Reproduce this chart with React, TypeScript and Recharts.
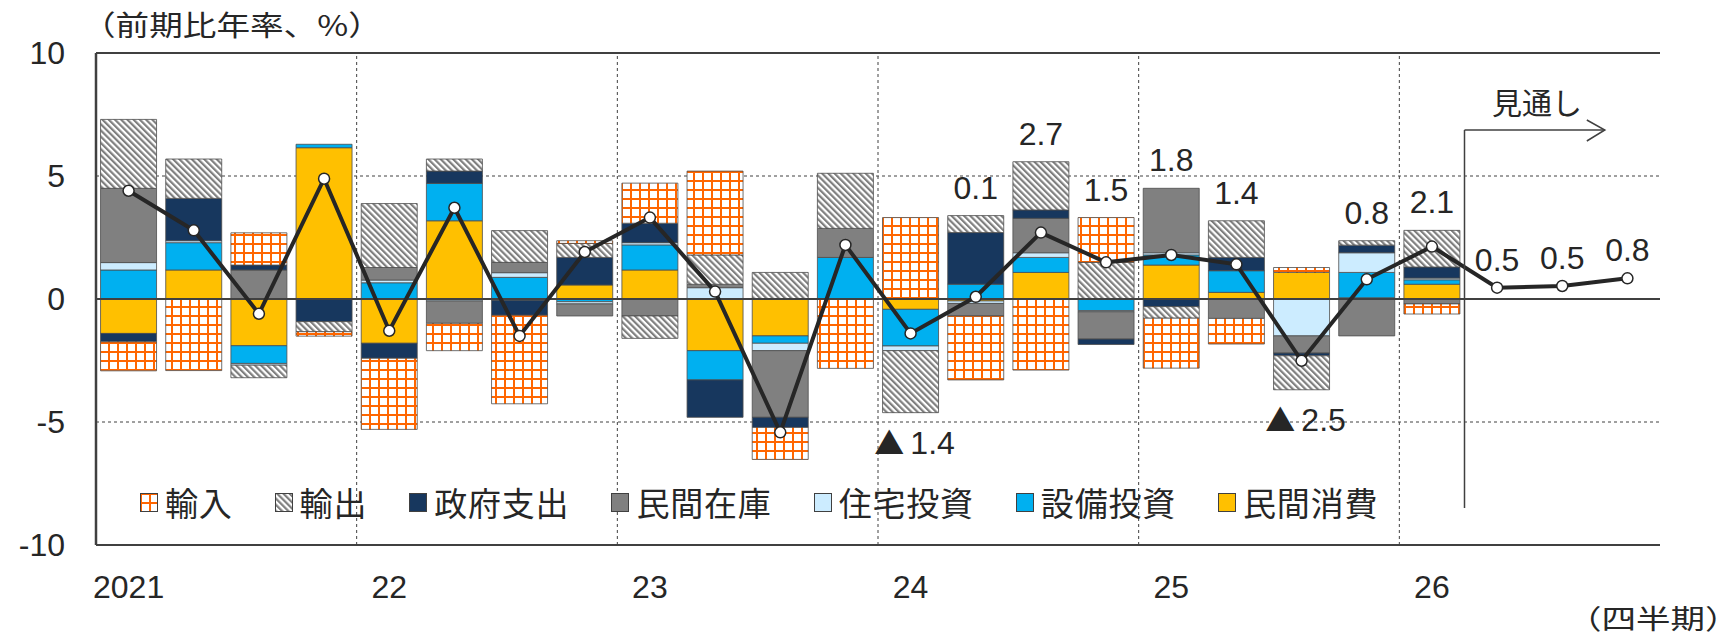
import React from 'react';
import {
    ComposedChart,
    Bar,
    Line,
    XAxis,
    YAxis,
    CartesianGrid,
    ReferenceLine,
    LabelList
} from 'recharts';

// Quarters 2021Q1 .. 2026Q4
const quarters = [
    '21Q1', '21Q2', '21Q3', '21Q4', '22Q1', '22Q2', '22Q3', '22Q4',
    '23Q1', '23Q2', '23Q3', '23Q4', '24Q1', '24Q2', '24Q3', '24Q4',
    '25Q1', '25Q2', '25Q3', '25Q4', '26Q1', '26Q2', '26Q3', '26Q4'
];
const yearLabels = [
    '2021', '', '', '', '22', '', '', '', '23', '', '', '', '24', '', '', '',
    '25', '', '', '', '26', '', '', ''
];

// contributions (%pt), 2021Q1 .. 2026Q1
const privateConsumption = [-1.40, 1.18, -1.90, 6.15, -1.80, 3.18, -0.05, 0.57, 1.18, -2.10, -1.50, 0, -0.42, -0.08, 1.08, 0, 1.38, 0.27, 1.08, 0.05, 0.60];
const capex = [1.18, 1.11, -0.72, 0.14, 0.66, 1.52, 0.88, -0.11, 1.02, -1.19, -0.30, 1.69, -1.49, 0.60, 0.61, -0.47, 0.41, 0.88, 0, 1.03, 0.18];
const housing = [0.30, 0.08, -0.07, 0, 0.11, -0.08, 0.19, -0.09, 0.09, 0.46, -0.30, 0, -0.19, -0.10, 0.19, -0.05, 0.09, 0, -1.50, 0.80, 0.07];
const inventory = [3.02, 0, 1.18, 0, 0.51, -0.91, 0.42, -0.49, -0.69, 0.14, -2.71, 1.18, 0, -0.51, 1.40, -1.11, 2.62, -0.79, -0.70, -1.50, -0.20];
const government = [-0.34, 1.72, 0.20, -0.92, -0.61, 0.50, -0.61, 1.12, 0.79, -1.52, -0.41, 0, 0, 2.10, 0.34, -0.22, -0.31, 0.54, -0.11, 0.31, 0.45];
const exportsC = [2.80, 1.60, -0.51, -0.41, 2.60, 0.49, 1.29, 0.57, -0.91, 1.19, 1.08, 2.24, -2.52, 0.69, 1.96, 1.49, -0.47, 1.49, -1.38, 0.18, 1.49];
const importsC = [-1.18, -2.91, 1.31, -0.18, -2.89, -1.11, -3.60, 0.11, 1.63, 3.41, -1.30, -2.82, 3.31, -2.60, -2.89, 1.82, -2.03, -1.04, 0.20, 0, -0.41];

// real GDP, q/q annualised
const gdp = [4.40, 2.79, -0.60, 4.89, -1.29, 3.71, -1.50, 1.91, 3.31, 0.30, -5.42, 2.20, -1.40, 0.09, 2.70, 1.49, 1.79, 1.41, -2.51, 0.80, 2.13, 0.46, 0.53, 0.84];
const gdpLabels = [
    '', '', '', '', '', '', '', '', '', '', '', '',
    '▲1.4', '0.1', '2.7', '1.5', '1.8', '1.4', '▲2.5', '0.8', '2.1', '0.5', '0.5', '0.8'
];

const series = [
    { key: 'cons', name: '民間消費', values: privateConsumption, fill: '#FFC000' },
    { key: 'capex', name: '設備投資', values: capex, fill: '#00B0F0' },
    { key: 'housing', name: '住宅投資', values: housing, fill: '#CCECFF' },
    { key: 'inv', name: '民間在庫', values: inventory, fill: '#808080' },
    { key: 'gov', name: '政府支出', values: government, fill: '#17375E' },
    { key: 'exp', name: '輸出', values: exportsC, fill: 'url(#hatchExport)' },
    { key: 'imp', name: '輸入', values: importsC, fill: 'url(#gridImport)' }
];

const yearStarts = ['22Q1', '23Q1', '24Q1', '25Q1', '26Q1'];
const forecastStart = '26Q2';

const data = quarters.map((q, i) => {
    const row: any = { q, gdp: gdp[i], labelText: gdpLabels[i] };
    let pos = 0;
    let neg = 0;
    let hasBar = false;
    series.forEach(s => {
        const v = s.values[i];
        row[s.key] = v ?? 0;
        if (v !== undefined) {
            hasBar = true;
            if (v > 0) pos += v; else neg += v;
        }
    });
    // value label sits just outside the stacked bar
    if (gdpLabels[i]) {
        row.anchor = !hasBar ? gdp[i] : gdp[i] >= 0 ? pos : neg;
    } else {
        row.anchor = null;
    }
    return row;
});

const TEXT = '#262626';
const AXIS = '#404040';
const NUM_FONT = '"Liberation Sans", Arial, sans-serif';
const JP_FONT = '"Noto Sans CJK JP", sans-serif';

const XTick = (props: any) => {
    const { x, y, payload } = props;
    const idx = quarters.indexOf(payload.value);
    const label = yearLabels[idx];
    if (!label) return null;
    return (
        <text x={x} y={y + 53} textAnchor="middle" fill={TEXT} fontSize={32} fontFamily={NUM_FONT}>
            {label}
        </text>
    );
};

const YTick = (props: any) => {
    const { y, payload } = props;
    return (
        <text x={65} y={y} dy={11} textAnchor="end" fill={TEXT} fontSize={32} fontFamily={NUM_FONT}>
            {payload.value}
        </text>
    );
};

const GdpLabel = (props: any) => {
    const { x, y, value } = props;
    if (!value || y == null) return null;
    const text = String(value);
    const below = text.startsWith('▲');
    const ty = below ? y + 30 : y - 28;
    if (below) {
        return (
            <text x={x + 4} y={ty} dy={11} textAnchor="middle" fill={TEXT} fontSize={32} fontFamily={NUM_FONT}>
                <tspan fontFamily={JP_FONT} fontSize={30}>▲</tspan>
                <tspan dx={6}>{text.slice(1)}</tspan>
            </text>
        );
    }
    return (
        <text x={x} y={ty} dy={11} textAnchor="middle" fill={TEXT} fontSize={32} fontFamily={NUM_FONT}>
            {text}
        </text>
    );
};

// horizontal arrow of the forecast marker
const ArrowShape = (props: any) => {
    const { x1, y1, x2 } = props;
    const tip = x2 + 10;
    return (
        <g stroke={AXIS} strokeWidth={1.5} fill="none">
            <line x1={x1} y1={y1} x2={tip} y2={y1} />
            <polyline points={`${tip - 18},${y1 - 10} ${tip},${y1} ${tip - 18},${y1 + 11}`} />
        </g>
    );
};

const Swatch: React.FC<{ fill: string }> = ({ fill }) => (
    <svg width={18} height={19} style={{ marginRight: 7, flex: 'none' }}>
        <rect x={0.5} y={0.5} width={17} height={18} fill={fill} stroke="#404040" strokeWidth={1} />
    </svg>
);

// the source art is a little wider than tall, so japanese captions get a horizontal stretch
const jpText = (left: number, top: number, size: number, stretch: number): React.CSSProperties => ({
    position: 'absolute',
    left,
    top,
    fontSize: size,
    lineHeight: `${size}px`,
    color: TEXT,
    fontFamily: JP_FONT,
    whiteSpace: 'nowrap',
    transform: `scaleX(${stretch})`,
    transformOrigin: 'left center'
});

const App: React.FC = () => {
    const legendItems = [...series].reverse();
    return (
        <div style={{ position: 'relative', width: 1724, height: 638, background: '#fff', overflow: 'hidden' }}>
            <style>{'body{margin:0}'}</style>
            <ComposedChart
                width={1724}
                height={638}
                data={data}
                margin={{ top: 53, right: 64, bottom: 33, left: 0 }}
                stackOffset="sign"
                barCategoryGap="7%"
            >
                <defs>
                    <pattern id="hatchExport" width="4.4" height="4.4" patternUnits="userSpaceOnUse" patternTransform="rotate(-45)">
                        <rect width="4.4" height="4.4" fill="#fff" />
                        <rect width="2.2" height="4.4" fill="#7f7f7f" />
                    </pattern>
                    <pattern id="gridImport" width="9" height="9" patternUnits="userSpaceOnUse">
                        <rect width="9" height="9" fill="#fff" />
                        <path d="M0 1H9M1 0V9" stroke="#FF6600" strokeWidth="2" />
                    </pattern>
                </defs>
                <CartesianGrid vertical={false} strokeDasharray="3 3" stroke={AXIS} />
                <XAxis
                    dataKey="q"
                    interval={0}
                    tick={<XTick />}
                    tickLine={false}
                    tickSize={0}
                    tickMargin={0}
                    height={60}
                    axisLine={{ stroke: AXIS, strokeWidth: 2 }}
                />
                <YAxis
                    domain={[-10, 10]}
                    ticks={[-10, -5, 0, 5, 10]}
                    allowDataOverflow
                    width={96}
                    tick={<YTick />}
                    tickLine={false}
                    tickSize={0}
                    tickMargin={0}
                    axisLine={{ stroke: AXIS, strokeWidth: 2.5 }}
                />
                {yearStarts.map(q => (
                    <ReferenceLine key={q} x={q} position="start" stroke={AXIS} strokeDasharray="3 3" />
                ))}
                {series.map(s => (
                    <Bar
                        key={s.key}
                        dataKey={s.key}
                        name={s.name}
                        stackId="a"
                        fill={s.fill}
                        stroke="#4d4d4d"
                        strokeWidth={0.8}
                        isAnimationActive={false}
                    />
                ))}
                <ReferenceLine y={0} stroke={AXIS} strokeWidth={2} />
                <ReferenceLine y={10} stroke={AXIS} strokeWidth={2} />
                <ReferenceLine x="26Q4" position="end" stroke={AXIS} strokeWidth={2} />
                <Line
                    dataKey="gdp"
                    stroke="#262626"
                    strokeWidth={4}
                    dot={{ r: 5.5, fill: '#fff', stroke: '#262626', strokeWidth: 1.5 }}
                    activeDot={false}
                    isAnimationActive={false}
                />
                <Line
                    dataKey="anchor"
                    stroke="none"
                    dot={false}
                    activeDot={false}
                    isAnimationActive={false}
                >
                    <LabelList dataKey="labelText" content={<GdpLabel />} />
                </Line>
                {/* forecast marker */}
                <ReferenceLine
                    position="start"
                    segment={[{ x: forecastStart, y: -8.5 }, { x: forecastStart, y: 6.87 }]}
                    stroke={AXIS}
                    strokeWidth={1.5}
                />
                <ReferenceLine
                    position="start"
                    segment={[{ x: forecastStart, y: 6.87 }, { x: '26Q4', y: 6.87 }]}
                    shape={<ArrowShape />}
                />
            </ComposedChart>

            <div style={jpText(82, 10, 28, 1.2)}>（前期比年率、%）</div>
            <div style={jpText(1492, 86, 30, 1)}>見通し</div>
            <div style={jpText(1567, 604, 27, 1.278)}>
                （四半期<span style={{ fontFeatureSettings: '"halt"' }}>）</span>
            </div>

            <div
                style={{
                    position: 'absolute',
                    left: 140,
                    top: 485,
                    display: 'flex',
                    alignItems: 'center',
                    gap: 42,
                    fontFamily: JP_FONT,
                    fontSize: 33,
                    letterSpacing: '0.8px',
                    lineHeight: '34px',
                    color: TEXT,
                    whiteSpace: 'nowrap'
                }}
            >
                {legendItems.map(s => (
                    <div key={s.key} style={{ display: 'flex', alignItems: 'center' }}>
                        <Swatch fill={s.fill} />
                        <span>{s.name}</span>
                    </div>
                ))}
            </div>
        </div>
    );
};

export default App;
